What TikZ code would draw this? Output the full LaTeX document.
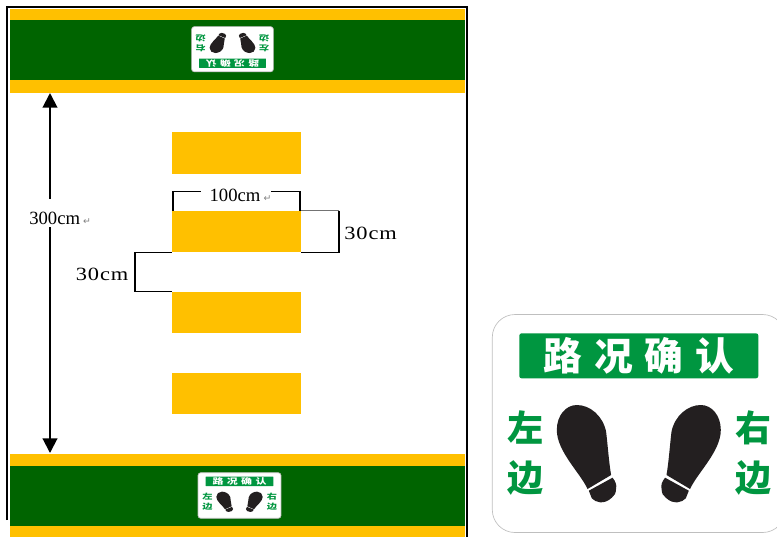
\documentclass[tikz,border=0pt]{standalone}
\usepackage{fontspec}
\setmainfont{Liberation Serif}
\newfontfamily\spacedfont[FakeStretch=1.2,LetterSpace=5]{Liberation Serif}
\newfontfamily\cjkfont{Noto Sans CJK SC}[BoldFont={Noto Sans CJK SC Black}]
\newfontfamily\symbfont{DejaVu Sans}
\usetikzlibrary{positioning, arrows.meta}
\definecolor{bandyellow}{HTML}{FFC000}
\definecolor{banddark}{HTML}{006400}
\definecolor{signgreen}{HTML}{009640}
\definecolor{solecolor}{HTML}{231F20}
\newcommand{\retmark}{\,{\symbfont\color{gray}\fontsize{7}{8}\selectfont ↵}}
\newcommand{\solepath}{
  \fill[solecolor] (-62,-18.5) .. controls (-49,-18.5) and (-36,-8) .. (-32.7,8.2)
    .. controls (-31,22) and (-30,38) .. (-27.7,51.5) -- (-51.3,65.5)
    .. controls (-58,50) and (-82,28) .. (-82,6.5)
    .. controls (-82,-8) and (-73,-18.5) .. cycle;
  \fill[solecolor] (-26.3,54.2) .. controls (-23,58) and (-22,62) .. (-22.7,64.8)
    .. controls (-23,70) and (-24,72) .. (-27,74.2)
    .. controls (-31,78) and (-35,79) .. (-38.7,78.8)
    .. controls (-42,78.5) and (-45,77) .. (-47,74.8)
    .. controls (-48,72) and (-49,70) .. (-50,67.2) -- cycle;
}
\tikzset{
  yellowbar/.style={fill=bandyellow, inner sep=0pt, minimum width=96.75pt, minimum height=31pt},
  dimline/.style={draw=black, line width=1.3pt},
  dimtext/.style={inner sep=0pt, font=\fontsize{14}{16}\selectfont},
  spacedtext/.style={inner sep=0pt, font=\spacedfont\fontsize{14}{16}\selectfont},
  roadsign/.pic={
    \draw[draw=black!25, fill=white, line width=.5pt, rounded corners=#1] (-146.5,-109) rectangle (146.5,109);
    \fill[signgreen, rounded corners=.1*#1] (-119.5,-90.2) rectangle (119.5,-45.2);
    \node[transform shape, text=white, inner sep=0pt, font=\cjkfont\bfseries\fontsize{29}{32}\selectfont] (-title) at (0,-67.7) {路\kern9pt 况\kern9pt 确\kern9pt 认};
    \node[transform shape, text=signgreen, inner sep=0pt, align=center, font=\cjkfont\bfseries\fontsize{27}{37.5}\selectfont] (-left) at (-113,30) {左\\边};
    \node[transform shape, text=signgreen, inner sep=0pt, align=center, font=\cjkfont\bfseries\fontsize{27}{37.5}\selectfont] (-right) at (114.5,30) {右\\边};
    \solepath
    \begin{scope}[xscale=-1]
      \solepath
    \end{scope}
  }
}

\begin{document}
\begin{tikzpicture}[x=.75pt, y=-.75pt]
  \useasboundingbox (0,0) rectangle (777,537);
  % frame
  \draw[line width=1.5pt] (7,520) -- (7,6.5) -- (467,6.5) -- (467,537);
  % bands
  \fill[bandyellow] (10,9) rectangle (465,92.5);
  \fill[banddark] (10,19.5) rectangle (465,80);
  \fill[bandyellow] (10,454) rectangle (465,537);
  \fill[banddark] (10,465.5) rectangle (465,526);
  \pic (topsign) at (232.5,49.2) [rotate=180, xscale=.279, yscale=.207] {roadsign=2pt};
  \pic (botsign) at (239.5,495.5) [xscale=.283, yscale=.209] {roadsign=2pt};
  % stripes
  \node[yellowbar] (bar1) at (236.5,153) {};
  \node[yellowbar] (bar2) at (236.5,231.5) {};
  \node[yellowbar] (bar3) at (236.5,312.5) {};
  \node[yellowbar] (bar4) at (236.5,393.5) {};
  % dimensions
  \coordinate (arrowtop) at (50,93);
  \coordinate (arrowbot) at (50,453);
  \draw[line width=1.5pt, {Triangle[length=11pt,width=11pt]}-{Triangle[length=11pt,width=11pt]}] (arrowtop) -- (arrowbot);
  \node[dimtext, fill=white, anchor=west, text height=19pt, text depth=2pt] (len300) at (29,213) {300cm\retmark};
  \draw[dimline] ([xshift=1pt]bar2.north west) -- ++(0,-19) -| ([xshift=-1pt]bar2.north east);
  \node[dimtext, fill=white, text width=53pt, align=right] (len100) at (236,195) {100cm\retmark};
  \draw[draw=black!55, line width=1.1pt] (bar2.north east) -- ++(37.5,0) coordinate (rightcorner);
  \draw[dimline] (rightcorner) |- (bar2.south east);
  \draw[dimline] (bar2.south west) -- ++(-37,0) |- (bar3.north west);
  \node[spacedtext, anchor=west] (gapright) at (344,233) {30cm};
  \node[spacedtext, anchor=west] (gapleft) at (75.5,274) {30cm};
  % enlarged sign
  \pic (bigsign) at (638.8,423.5) {roadsign=17pt};
\end{tikzpicture}
\end{document}
